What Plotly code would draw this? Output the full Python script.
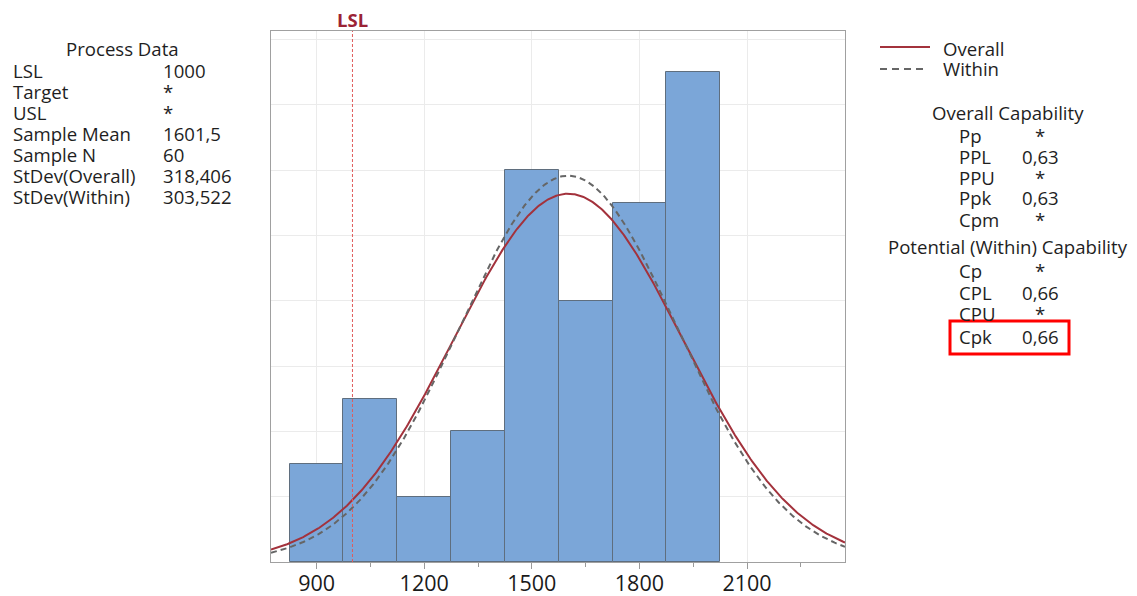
import numpy as np
import plotly.graph_objects as go

# ---------------- data ----------------
bin_centers = [900, 1050, 1200, 1350, 1500, 1650, 1800, 1950]
bin_width = 150
counts = [3, 5, 2, 4, 12, 8, 11, 15]
lsl = 1000
sample_mean = 1601.5
sample_n = 60
sd_overall = 318.406
sd_within = 303.522
tick_vals = [900, 1200, 1500, 1800, 2100]

process_labels = ["LSL", "Target", "USL", "Sample Mean", "Sample N", "StDev(Overall)", "StDev(Within)"]
process_values = ["1000", "*", "*", "1601,5", "60", "318,406", "303,522"]
overall_labels = ["Pp", "PPL", "PPU", "Ppk", "Cpm"]
overall_values = ["*", "0,63", "*", "0,63", "*"]
within_labels = ["Cp", "CPL", "CPU", "Cpk"]
within_values = ["*", "0,66", "*", "0,66"]

# ---------------- geometry ----------------
W, H = 1137, 596
L, R, T, B = 271, 845, 31, 562
x_range = [772.9, 2373.2]
y_range = [0, 16.26]


def px(x):
    return (x - L) / (R - L)


def py(y):
    return (B - y) / (B - T)


FONT = "Open Sans, Noto Sans, sans-serif"
TXT = "#1e1e1e"
RED = "#A3323C"
GREY = "#666666"
FS = 18.6

xs = np.linspace(x_range[0], x_range[1], 500)


def normal_curve(mu, sd):
    return sample_n * bin_width * np.exp(-0.5 * ((xs - mu) / sd) ** 2) / (sd * np.sqrt(2 * np.pi))


fig = go.Figure()
fig.add_trace(go.Bar(
    x=bin_centers, y=counts, width=bin_width,
    marker=dict(color="#7BA6D8", line=dict(color="#5F6E7E", width=1)),
    showlegend=False, hoverinfo="skip"))
fig.add_trace(go.Scatter(x=xs, y=normal_curve(sample_mean, sd_overall), mode="lines",
                         line=dict(color=RED, width=2), showlegend=False))
fig.add_trace(go.Scatter(x=xs, y=normal_curve(sample_mean, sd_within), mode="lines",
                         line=dict(color=GREY, width=2, dash="6px,4px"), showlegend=False))

shapes = []
annotations = []


def txt(x, y, s, anchor="left", size=FS, color=TXT):
    annotations.append(dict(xref="paper", yref="paper", x=px(x), y=py(y), text=s,
                            showarrow=False, xanchor=anchor, yanchor="middle",
                            font=dict(family=FONT, size=size, color=color)))


# LSL line & label
shapes.append(dict(type="line", xref="x", yref="paper", x0=lsl, x1=lsl, y0=0, y1=1,
                   line=dict(color="#E05A5A", width=1, dash="3px,2px")))
annotations.append(dict(xref="x", yref="paper", x=lsl, y=py(19.5), text="<b>LSL</b>",
                        showarrow=False, xanchor="center", yanchor="middle",
                        font=dict(family=FONT, size=18.5, color="#9B2335")))

# left panel
txt(122, 48, "Process Data", anchor="center")
for i, (lab, val) in enumerate(zip(process_labels, process_values)):
    yy = 70 + 21.1 * i
    txt(11, yy, lab)
    txt(161, yy, val)

# legend
shapes.append(dict(type="line", xref="paper", yref="paper", x0=px(880), x1=px(930), y0=py(47), y1=py(47),
                   line=dict(color=RED, width=2)))
shapes.append(dict(type="line", xref="paper", yref="paper", x0=px(880), x1=px(928), y0=py(69), y1=py(69),
                   line=dict(color=GREY, width=2, dash="7px,5px")))
txt(941, 48, "Overall")
txt(941, 69, "Within")

# right panel
txt(1008, 113, "Overall Capability", anchor="center")
for i, (lab, val) in enumerate(zip(overall_labels, overall_values)):
    yy = 135 + 21 * i
    txt(957, yy, lab)
    txt(1040, yy, val, anchor="center")
txt(1008, 246, "Potential (Within) Capability", anchor="center")
for i, (lab, val) in enumerate(zip(within_labels, within_values)):
    yy = [270, 292, 313, 336][i]
    txt(957, yy, lab)
    txt(1040, yy, val, anchor="center")

# red highlight box
shapes.append(dict(type="rect", xref="paper", yref="paper", x0=px(950), x1=px(1069), y0=py(354), y1=py(321),
                   line=dict(color="#FF0000", width=3), fillcolor="rgba(0,0,0,0)", layer="above"))

fig.update_layout(
    width=W, height=H,
    margin=dict(l=L, r=W - R, t=T, b=H - B, pad=0, autoexpand=False),
    paper_bgcolor="white", plot_bgcolor="white",
    bargap=0,
    shapes=shapes, annotations=annotations,
    font=dict(family=FONT, color=TXT),
    xaxis=dict(range=x_range, tickvals=tick_vals, ticktext=[str(v) for v in tick_vals],
               ticks="outside", ticklen=6, tickcolor="#9a9a9a", tickwidth=1,
               minor=dict(dtick=150, tick0=900, ticks="outside", ticklen=4, tickcolor="#9a9a9a", showgrid=False),
               showgrid=True, gridcolor="#ebebeb", gridwidth=1, automargin=False,
               showline=True, linecolor="#a0a0a0", linewidth=1, mirror=True,
               ticklabelstandoff=-4,
               tickfont=dict(family=FONT, size=21.5, color="#1a1a1a"), zeroline=False),
    yaxis=dict(range=y_range, dtick=2, tick0=0, showticklabels=False, ticks="", automargin=False,
               showgrid=True, gridcolor="#ebebeb", gridwidth=1,
               showline=True, linecolor="#a0a0a0", linewidth=1, mirror=True, zeroline=False),
)

fig.write_html("out.html")
